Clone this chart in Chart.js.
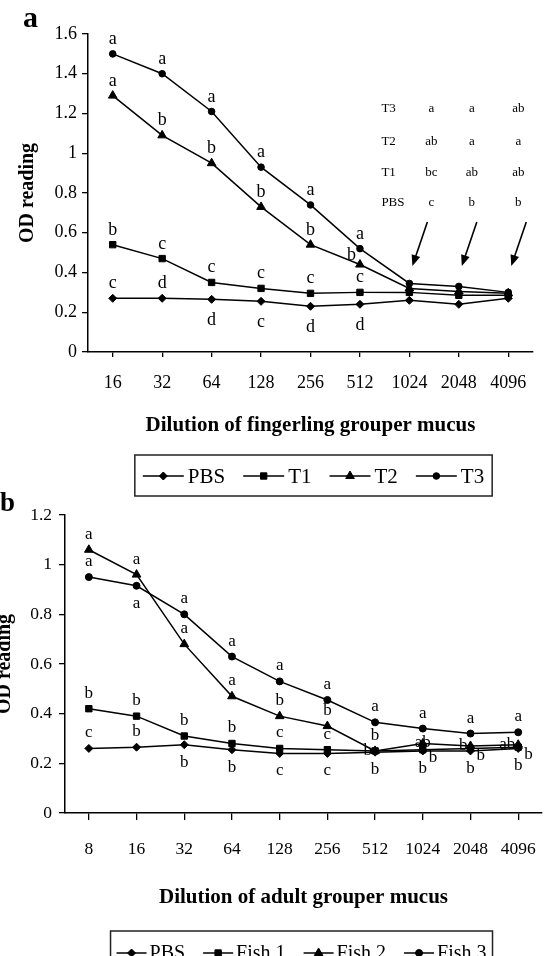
<!DOCTYPE html>
<html>
<head>
<meta charset="utf-8">
<script src="https://cdn.jsdelivr.net/npm/chart.js@4.4.1/dist/chart.umd.min.js"></script>
<style>
html, body { margin: 0; padding: 0; background: #fff; }
body { width: 555px; height: 956px; position: relative; overflow: hidden; }
canvas { position: absolute; }
#chartA { left: 0; top: 0; }
#chartB { left: -7px; top: 480px; }
</style>
</head>
<body>
<canvas id="chartA" width="555" height="500"></canvas>
<canvas id="chartB" width="562" height="476"></canvas>
<script>
// panel a - fingerling grouper
const fingerlingDilutions = ['16', '32', '64', '128', '256', '512', '1024', '2048', '4096'];
const pbsA = [0.27, 0.27, 0.265, 0.255, 0.23, 0.24, 0.26, 0.24, 0.27];
const t1A  = [0.54, 0.47, 0.35, 0.32, 0.295, 0.30, 0.30, 0.285, 0.285];
const t2A  = [1.29, 1.09, 0.95, 0.73, 0.54, 0.44, 0.32, 0.305, 0.295];
const t3A  = [1.50, 1.40, 1.21, 0.93, 0.74, 0.52, 0.345, 0.33, 0.30];

// significance letters (PBS, T1, T2, T3) and where they sit
const lettersA = [
    ['c', 'd', 'd', 'c', 'd', 'd', '', '', ''],
    ['b', 'c', 'c', 'c', 'c', 'c', '', '', ''],
    ['a', 'b', 'b', 'b', 'b', 'b', '', '', ''],
    ['a', 'a', 'a', 'a', 'a', 'a', '', '', '']
];
const placesA = [
    ['t', 't', 'b', 'b', 'b', 'b', '', '', ''],
    ['t', 't', 't', 't', 't', 't', '', '', ''],
    ['t', 't', 't', 't', 't', 'tl', '', '', ''],
    ['t', 't', 't', 't', 't', 't', '', '', '']
];
const tableRows = ['T3', 'T2', 'T1', 'PBS'];
const tableLetters = [
    ['a', 'a', 'ab'],
    ['ab', 'a', 'a'],
    ['bc', 'ab', 'ab'],
    ['c', 'b', 'b']
];

// panel b - adult grouper
const adultDilutions = ['8', '16', '32', '64', '128', '256', '512', '1024', '2048', '4096'];
const pbsB   = [0.26, 0.265, 0.275, 0.255, 0.24, 0.24, 0.245, 0.25, 0.25, 0.26];
const fish1B = [0.42, 0.39, 0.31, 0.28, 0.26, 0.255, 0.25, 0.255, 0.26, 0.265];
const fish2B = [1.06, 0.96, 0.68, 0.47, 0.39, 0.35, 0.25, 0.28, 0.27, 0.275];
const fish3B = [0.95, 0.915, 0.80, 0.63, 0.53, 0.455, 0.365, 0.34, 0.32, 0.325];

const lettersB = [
    ['c', 'b', 'b', 'b', 'c', 'c', 'b', 'b', 'b', 'b'],
    ['b', 'b', 'b', 'b', 'c', 'c', 'b', 'b', 'b', 'b'],
    ['a', 'a', 'a', 'a', 'b', 'b', 'b', 'ab', 'b', 'ab'],
    ['a', 'a', 'a', 'a', 'a', 'a', 'a', 'a', 'a', 'a']
];
const placesB = [
    ['t', 't', 'b', 'b', 'b', 'b', 'b', 'b', 'b', 'b'],
    ['t', 't', 't', 't', 't', 't', 'l', 'r', 'r', 'r'],
    ['t', 't', 't', 't', 't', 't', 't', 'c', 'l', 'l'],
    ['t', 'b', 't', 't', 't', 't', 't', 't', 't', 't']
];

const SERIF = '"Liberation Serif", "DejaVu Serif", serif';

function series(label, data, style, radius) {
    return {
        label: label,
        data: data,
        borderColor: '#000',
        borderWidth: 1.5,
        backgroundColor: '#000',
        pointStyle: style,
        pointRadius: radius,
        pointBackgroundColor: '#000',
        pointBorderColor: '#000',
        pointBorderWidth: 1,
        tension: 0,
        fill: false
    };
}

function lettersPlugin(letters, places, font, offsets) {
    return {
        id: 'letters',
        afterDatasetsDraw: function(chart) {
            const ctx = chart.ctx;
            ctx.save();
            ctx.font = font;
            ctx.fillStyle = '#000';
            ctx.textBaseline = 'alphabetic';
            letters.forEach(function(row, i) {
                const meta = chart.getDatasetMeta(i);
                row.forEach(function(txt, j) {
                    if (!txt) return;
                    const el = meta.data[j];
                    const off = offsets[places[i][j]];
                    ctx.textAlign = off[2];
                    ctx.fillText(txt, el.x + off[0], el.y + off[1]);
                });
            });
            ctx.restore();
        }
    };
}

function boxLegend(o) {
    return {
        id: 'boxLegend',
        afterDraw: function(chart) {
            const ctx = chart.ctx;
            ctx.save();
            ctx.font = o.font;
            const items = chart.data.datasets.map(function(ds) {
                return {ds: ds, w: ctx.measureText(ds.label).width};
            });
            let total = o.pad * 2 + o.spacing * (items.length - 1);
            items.forEach(function(it) { total += o.symbol + o.gap + it.w; });
            const area = chart.chartArea;
            let x = (area.left + area.right) / 2 - total / 2 + o.dx;
            ctx.strokeStyle = '#222';
            ctx.lineWidth = 1.5;
            ctx.strokeRect(x, o.top, total, o.height);
            x += o.pad;
            const y = o.top + o.textY;
            ctx.textAlign = 'left';
            ctx.textBaseline = 'middle';
            items.forEach(function(it) {
                ctx.beginPath();
                ctx.moveTo(x, y);
                ctx.lineTo(x + o.symbol, y);
                ctx.strokeStyle = '#000';
                ctx.lineWidth = 1.5;
                ctx.stroke();
                ctx.fillStyle = '#000';
                ctx.lineWidth = 1;
                Chart.helpers.drawPoint(ctx, {
                    pointStyle: it.ds.pointStyle,
                    radius: it.ds.pointRadius,
                    rotation: 0,
                    borderWidth: 1
                }, x + o.symbol / 2, y);
                x += o.symbol + o.gap;
                ctx.fillStyle = '#000';
                ctx.fillText(it.ds.label, x, y + 1);
                x += it.w + o.spacing;
            });
            ctx.restore();
        }
    };
}

function axisOptions(o) {
    return {
        x: {
            type: 'category',
            offset: true,
            grid: {display: true, drawOnChartArea: false, drawTicks: true, tickLength: o.xTick, color: '#000', lineWidth: 1.3},
            border: {display: true, color: '#000', width: 1.5},
            ticks: {color: '#000', font: {family: SERIF, size: o.xFont}, padding: o.xPad, maxRotation: 0, autoSkip: false},
            title: {display: true, text: o.xTitle, color: '#000', font: {family: SERIF, size: 21, weight: 'bold'}, padding: {top: 0, bottom: o.xTitlePad}},
            afterFit: function(s) { s.height = o.xHeight; }
        },
        y: {
            min: 0,
            max: o.yMax,
            grid: {display: true, drawOnChartArea: false, drawTicks: true, tickLength: o.yTick, color: '#000', lineWidth: 1.3},
            border: {display: true, color: '#000', width: 1.5},
            ticks: {
                stepSize: 0.2,
                color: '#000',
                font: {family: SERIF, size: o.yFont},
                padding: o.yPad,
                callback: function(v) { return String(Math.round(v * 10) / 10); }
            },
            title: {display: true, text: 'OD reading', color: '#000', font: {family: SERIF, size: 20, weight: 'bold'}, padding: {top: o.yTitlePad, bottom: 0}},
            afterFit: function(s) { s.width = o.yWidth; }
        }
    };
}

// notes of panel a: panel letter, small table and arrows
const notesA = {
    id: 'notesA',
    afterDraw: function(chart) {
        const ctx = chart.ctx;
        const xs = chart.scales.x;
        ctx.save();
        ctx.fillStyle = '#000';
        ctx.font = 'bold 30px ' + SERIF;
        ctx.textAlign = 'left';
        ctx.textBaseline = 'alphabetic';
        ctx.fillText('a', 23, 27);

        const c0 = xs.getPixelForValue(6), c1 = xs.getPixelForValue(7), c2 = xs.getPixelForValue(8);
        const colX = [c0 + 22, c1 + 13, c2 + 10];
        const rowY = [109, 142, 173, 203];
        ctx.font = '13px ' + SERIF;
        ctx.textBaseline = 'middle';
        tableRows.forEach(function(name, r) {
            ctx.textAlign = 'left';
            ctx.fillText(name, c0 - 28, rowY[r]);
            ctx.textAlign = 'center';
            tableLetters[r].forEach(function(t, k) { ctx.fillText(t, colX[k], rowY[r]); });
        });

        [c0, c1, c2].forEach(function(cx) {
            const tx = cx + 3, ty = 266, sx = tx + 15, sy = 222;
            const ang = Math.atan2(ty - sy, tx - sx);
            ctx.beginPath();
            ctx.moveTo(sx, sy);
            ctx.lineTo(tx - 8 * Math.cos(ang), ty - 8 * Math.sin(ang));
            ctx.strokeStyle = '#000';
            ctx.lineWidth = 1.6;
            ctx.stroke();
            ctx.beginPath();
            ctx.moveTo(tx, ty);
            ctx.lineTo(tx - 11 * Math.cos(ang) + 4.5 * Math.sin(ang), ty - 11 * Math.sin(ang) - 4.5 * Math.cos(ang));
            ctx.lineTo(tx - 11 * Math.cos(ang) - 4.5 * Math.sin(ang), ty - 11 * Math.sin(ang) + 4.5 * Math.cos(ang));
            ctx.closePath();
            ctx.fill();
        });
        ctx.restore();
    }
};

const notesB = {
    id: 'notesB',
    afterDraw: function(chart) {
        const ctx = chart.ctx;
        ctx.save();
        ctx.fillStyle = '#000';
        ctx.font = 'bold 27px ' + SERIF;
        ctx.textAlign = 'left';
        ctx.textBaseline = 'alphabetic';
        ctx.fillText('b', 7, 31);
        ctx.restore();
    }
};

new Chart(document.getElementById('chartA'), {
    type: 'line',
    data: {
        labels: fingerlingDilutions,
        datasets: [
            series('PBS', pbsA, 'rectRot', 4),
            series('T1', t1A, 'rect', 4.5),
            series('T2', t2A, 'triangle', 5),
            series('T3', t3A, 'circle', 3.3)
        ]
    },
    options: {
        responsive: false,
        animation: false,
        events: [],
        layout: {padding: {top: 34, right: 22, bottom: 45, left: 0}},
        plugins: {legend: {display: false}, tooltip: {enabled: false}},
        scales: axisOptions({
            xTitle: 'Dilution of fingerling grouper mucus', xTick: 5, xFont: 18, xPad: 15, xTitlePad: 17, xHeight: 103,
            yMax: 1.6, yTick: 6, yFont: 18, yPad: 5, yTitlePad: 16, yWidth: 88
        })
    },
    plugins: [
        lettersPlugin(lettersA, placesA, '18px ' + SERIF, {
            t: [0, -10, 'center'], b: [0, 26, 'center'], tl: [-4, -5, 'right']
        }),
        boxLegend({top: 455, height: 41, textY: 21, font: '21px ' + SERIF, symbol: 41, gap: 4, spacing: 18, pad: 8, dx: 3}),
        notesA
    ]
});

new Chart(document.getElementById('chartB'), {
    type: 'line',
    data: {
        labels: adultDilutions,
        datasets: [
            series('PBS', pbsB, 'rectRot', 4),
            series('Fish 1', fish1B, 'rect', 4.5),
            series('Fish 2', fish2B, 'triangle', 5),
            series('Fish 3', fish3B, 'circle', 3.5)
        ]
    },
    options: {
        responsive: false,
        animation: false,
        events: [],
        layout: {padding: {top: 35, right: 5, bottom: 25, left: 0}},
        plugins: {legend: {display: false}, tooltip: {enabled: false}},
        scales: axisOptions({
            xTitle: 'Dilution of adult grouper mucus', xTick: 7, xFont: 17.5, xPad: 19, xTitlePad: 21, xHeight: 118,
            yMax: 1.2, yTick: 6, yFont: 17.5, yPad: 7, yTitlePad: 0, yWidth: 72
        })
    },
    plugins: [
        lettersPlugin(lettersB, placesB, '17px ' + SERIF, {
            t: [0, -11, 'center'], b: [0, 22, 'center'], l: [-3, 4, 'right'], r: [6, 12, 'left'], c: [0, 4, 'center']
        }),
        boxLegend({top: 451, height: 44, textY: 22, font: '20px ' + SERIF, symbol: 30, gap: 3, spacing: 18, pad: 6, dx: -2}),
        notesB
    ]
});
</script>
</body>
</html>
